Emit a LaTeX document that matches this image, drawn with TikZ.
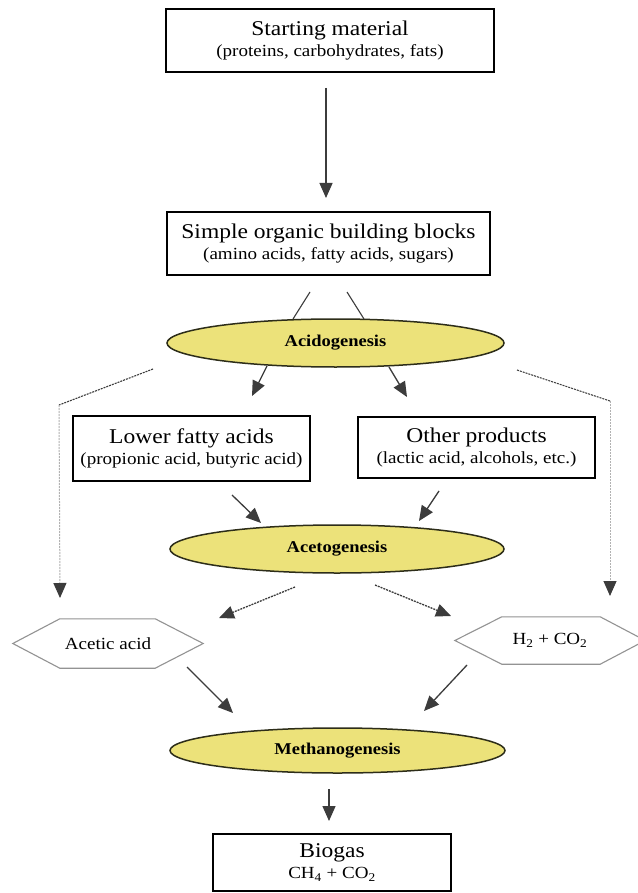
\documentclass[tikz,border=0pt]{standalone}
\usepackage{fontspec}
\setmainfont[FakeStretch=1.12]{Liberation Serif}
\usetikzlibrary{shapes.geometric,arrows.meta,calc}
\definecolor{ellfill}{RGB}{236,226,122}
\definecolor{ellline}{RGB}{45,45,25}
\definecolor{arrcol}{RGB}{60,60,60}
\newcommand{\mainf}{\fontsize{21}{21}\selectfont}
\newcommand{\subf}{\fontsize{17}{19}\selectfont}
\begin{document}
\begin{tikzpicture}[x=1pt,y=-1pt,
  box/.style={draw=black,line width=1.4pt,rectangle,inner sep=0pt,align=center,font=\mainf},
  phase/.style={ellipse,draw=ellline,fill=ellfill,line width=1.5pt,inner sep=0pt,
    font=\fontsize{16.5}{18}\selectfont\bfseries},
  hexlabel/.style={inner sep=0pt,font=\subf},
  hexline/.style={draw=gray!85,line width=1.1pt},
  tip/.style={-{Triangle[width=13pt,length=15pt,color=arrcol]}},
  arr/.style={draw=arrcol,line width=1.3pt,tip},
  plainline/.style={draw=arrcol,line width=1.1pt},
  dasharr/.style={arr,dash pattern=on 2pt off 1pt},
  sidediag/.style={draw=arrcol,line width=1.1pt,dash pattern=on 2pt off 1pt},
  sidevert/.style={draw=gray!60,line width=1pt,dash pattern=on 2pt off 1pt,tip}
]
\fill[white] (0,0) rectangle (637,893);
\useasboundingbox (0,0) rectangle (637,893);

% nodes
\node[box,minimum width=328pt,minimum height=63pt] (start) at (330,40.5)
  {Starting material\\{\subf (proteins, carbohydrates, fats)}};
\node[box,minimum width=323pt,minimum height=63pt] (simple) at (328.5,243.5)
  {Simple organic building blocks\\{\subf (amino acids, fatty acids, sugars)}};
\node[phase,minimum width=337pt,minimum height=48pt] (acido) at (335.5,343) {Acidogenesis};
\node[box,minimum width=237pt,minimum height=65pt] (lower) at (191.5,448.5)
  {Lower fatty acids\\{\subf (propionic acid, butyric acid)}};
\node[box,minimum width=237pt,minimum height=61pt] (other) at (476.5,447.5)
  {Other products\\{\subf (lactic acid, alcohols, etc.)}};
\node[phase,minimum width=334pt,minimum height=48pt] (aceto) at (337,549) {Acetogenesis};
\node[hexlabel,minimum width=190pt,minimum height=49pt] (acetic) at (108,643.5) {Acetic acid};
\node[hexlabel,minimum width=190pt,minimum height=47pt] (h2) at (550,640.5)
  {H\textsubscript{2} + CO\textsubscript{2}};
\node[phase,minimum width=335pt,minimum height=45pt] (methano) at (337.5,750.5) {Methanogenesis};
\node[box,minimum width=238pt,minimum height=57pt] (biogas) at (332,862.5)
  {Biogas\\{\subf CH\textsubscript{4} + CO\textsubscript{2}}};

% hexagon outlines
\draw[hexline] (acetic.west) -- ([xshift=47pt]acetic.north west) -- ([xshift=-48pt]acetic.north east)
  -- (acetic.east) -- ([xshift=-48pt]acetic.south east) -- ([xshift=47pt]acetic.south west) -- cycle;
\draw[hexline] (h2.west) -- ([xshift=47pt]h2.north west) -- ([xshift=-45pt]h2.north east)
  -- (h2.east) -- ([xshift=-45pt]h2.south east) -- ([xshift=47pt]h2.south west) -- cycle;

% connector end points
\coordinate (s1) at (326,88);   \coordinate (e1) at (326,198);
\coordinate (s2) at (310,292);  \coordinate (e2) at (293,319);
\coordinate (s3) at (347,292);  \coordinate (e3) at (364,319);
\coordinate (s4) at (267,366);  \coordinate (e4) at (252,396);
\coordinate (s5) at (389,367);  \coordinate (e5) at (407,397);
\coordinate (s6) at (153,369);  \coordinate (c6) at (59,405);  \coordinate (e6) at (60,598);
\coordinate (s7) at (517,370);  \coordinate (c7) at (610,401); \coordinate (e7) at (610,596);
\coordinate (s8) at (232,495);  \coordinate (e8) at (261,523);
\coordinate (s9) at (439,491);  \coordinate (e9) at (419,521);
\coordinate (s10) at (295,587); \coordinate (e10) at (219,618);
\coordinate (s11) at (375,585); \coordinate (e11) at (451,616);
\coordinate (s12) at (187,667); \coordinate (e12) at (233,713);
\coordinate (s13) at (467,665); \coordinate (e13) at (424,711);
\coordinate (s14) at (329,789); \coordinate (e14) at (329,821);

% connectors
\draw[arr] (s1) -- (e1);
\draw[plainline] (s2) -- (e2);
\draw[plainline] (s3) -- (e3);
\draw[arr] (s4) -- (e4);
\draw[arr] (s5) -- (e5);
\draw[sidediag] (s6) -- (c6);
\draw[sidevert] (c6) -- (e6);
\draw[sidediag] (s7) -- (c7);
\draw[sidevert] (c7) -- (e7);
\draw[arr] (s8) -- (e8);
\draw[arr] (s9) -- (e9);
\draw[dasharr] (s10) -- (e10);
\draw[dasharr] (s11) -- (e11);
\draw[arr] (s12) -- (e12);
\draw[arr] (s13) -- (e13);
\draw[arr] (s14) -- (e14);
\end{tikzpicture}
\end{document}
